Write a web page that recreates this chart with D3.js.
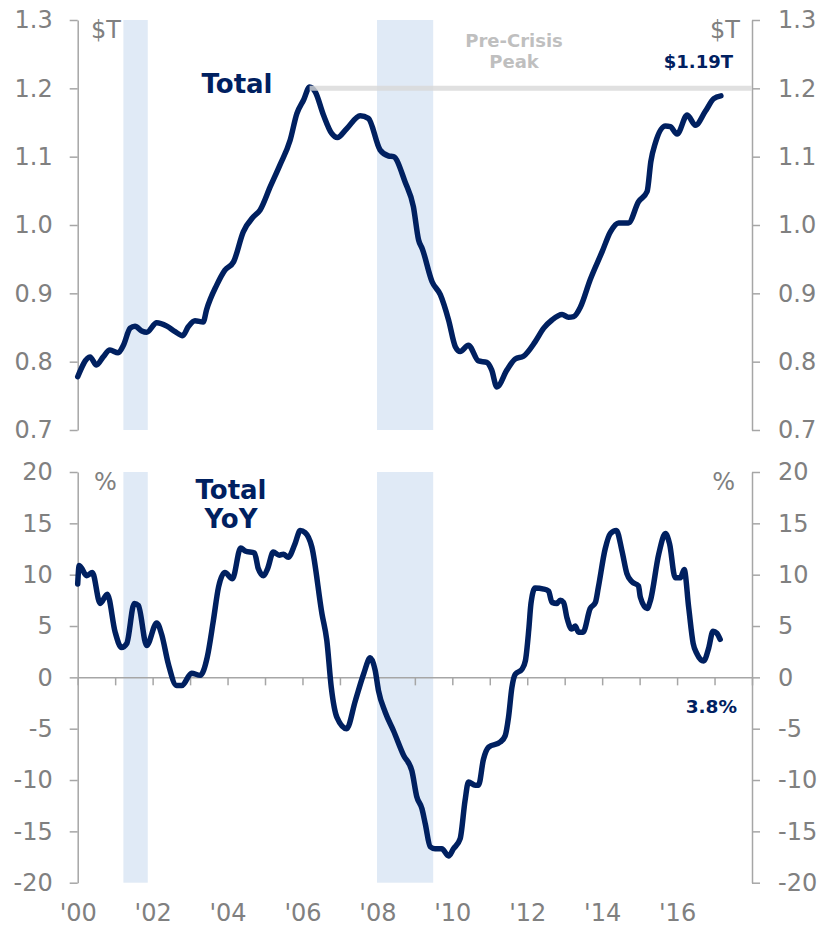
<!DOCTYPE html>
<html>
<head>
<meta charset="utf-8">
<script src="https://cdn.jsdelivr.net/npm/d3@7"></script>
<style>
  body { margin: 0; background: #fff; }
  svg text { font-family: Verdana, 'DejaVu Sans', sans-serif; }
  .axis path, .axis line { stroke: #a6a6a6; stroke-width: 1.5; }
  .axis text { fill: #808080; font-size: 24px; }
</style>
</head>
<body>
<div id="chart"></div>
<script>
// Total ($T)
const totalYears = [2000.0, 2000.33, 2000.5, 2000.68, 2000.86, 2001.08, 2001.22, 2001.4, 2001.53, 2001.71,
  2001.84, 2002.11, 2002.38, 2002.6, 2002.8, 2002.95, 2003.13, 2003.35, 2003.44, 2003.71,
  2003.93, 2004.16, 2004.42, 2004.69, 2004.87, 2005.14, 2005.4, 2005.67, 2005.85, 2006.03,
  2006.19, 2006.34, 2006.56, 2006.78, 2006.93, 2007.18, 2007.54, 2007.76, 2008.07, 2008.3,
  2008.43, 2008.74, 2008.96, 2009.1, 2009.2, 2009.46, 2009.68, 2009.9, 2010.08, 2010.21,
  2010.43, 2010.7, 2010.92, 2011.05, 2011.19, 2011.46, 2011.68, 2011.9, 2012.21, 2012.44,
  2012.66, 2012.93, 2013.1, 2013.24, 2013.42, 2013.68, 2014.0, 2014.22, 2014.44, 2014.7,
  2014.97, 2015.2, 2015.3, 2015.42, 2015.69, 2015.82, 2016.0, 2016.27, 2016.49, 2016.75,
  2016.98, 2017.17];
const totalValues = [0.778, 0.807, 0.795, 0.807, 0.817, 0.813, 0.824, 0.849, 0.852, 0.845,
  0.843, 0.857, 0.852, 0.844, 0.838, 0.851, 0.860, 0.858, 0.876, 0.912,
  0.934, 0.946, 0.990, 1.012, 1.022, 1.056, 1.088, 1.124, 1.163, 1.183,
  1.202, 1.195, 1.161, 1.134, 1.128, 1.141, 1.160, 1.156, 1.110, 1.101,
  1.100, 1.063, 1.027, 0.978, 0.965, 0.917, 0.898, 0.861, 0.822, 0.815,
  0.824, 0.801, 0.799, 0.788, 0.763, 0.788, 0.804, 0.808, 0.829, 0.849,
  0.861, 0.869, 0.865, 0.866, 0.880, 0.920, 0.961, 0.990, 1.003, 1.003,
  1.034, 1.049, 1.093, 1.120, 1.145, 1.144, 1.133, 1.161, 1.146, 1.166,
  1.185, 1.189];

// Total YoY (%)
const yoyYears = [2000.0, 2000.04, 2000.24, 2000.39, 2000.6, 2000.79, 2001.0, 2001.17, 2001.31, 2001.51,
  2001.62, 2001.84, 2002.11, 2002.24, 2002.42, 2002.64, 2002.78, 2003.04, 2003.27, 2003.46,
  2003.62, 2003.76, 2003.93, 2004.13, 2004.35, 2004.47, 2004.72, 2004.82, 2004.96, 2005.07,
  2005.22, 2005.38, 2005.49, 2005.62, 2005.8, 2005.94, 2006.07, 2006.25, 2006.52, 2006.65,
  2006.77, 2006.92, 2007.18, 2007.41, 2007.63, 2007.81, 2007.94, 2008.03, 2008.21, 2008.43,
  2008.7, 2008.92, 2009.05, 2009.19, 2009.28, 2009.41, 2009.54, 2009.72, 2009.9, 2010.03,
  2010.21, 2010.34, 2010.43, 2010.61, 2010.7, 2010.83, 2010.97, 2011.28, 2011.41, 2011.5,
  2011.59, 2011.68, 2011.86, 2011.95, 2012.04, 2012.1, 2012.21, 2012.44, 2012.57, 2012.66,
  2012.79, 2012.88, 2012.97, 2013.06, 2013.19, 2013.28, 2013.37, 2013.49, 2013.68, 2013.82,
  2013.9, 2014.08, 2014.22, 2014.38, 2014.53, 2014.66, 2014.8, 2014.97, 2015.02, 2015.2,
  2015.29, 2015.51, 2015.69, 2015.8, 2015.95, 2016.09, 2016.19, 2016.31, 2016.43, 2016.53,
  2016.71, 2016.84, 2016.96, 2017.06, 2017.15];
const yoyValues = [9.1, 10.9, 9.9, 10.2, 7.2, 8.1, 4.4, 2.9, 3.3, 7.2,
  7.0, 3.1, 5.3, 4.2, 1.3, -0.8, -0.8, 0.4, 0.2, 2.0,
  5.5, 8.8, 10.2, 9.6, 12.6, 12.3, 12.1, 10.6, 9.9, 10.6,
  12.2, 11.9, 12.0, 11.7, 13.0, 14.3, 14.1, 12.7, 6.2, 3.6,
  -1.0, -3.9, -5.0, -2.3, 0.3, 1.9, 0.7, -1.3, -3.4, -5.2,
  -7.6, -9.1, -11.6, -12.8, -14.3, -16.5, -16.7, -16.7, -17.4, -16.7,
  -15.7, -12.0, -10.2, -10.5, -10.5, -8.0, -6.8, -6.3, -5.7, -3.9,
  -1.0, 0.3, 0.8, 1.6, 4.6, 7.2, 8.7, 8.6, 8.4, 7.3,
  7.2, 7.5, 7.3, 5.8, 4.7, 5.0, 4.4, 4.4, 6.7, 7.3,
  8.8, 12.5, 14.0, 14.3, 12.3, 10.1, 9.3, 8.9, 7.8, 6.7,
  7.5, 12.0, 14.0, 13.0, 9.7, 9.7, 10.5, 6.8, 3.3, 2.3,
  1.6, 2.8, 4.5, 4.3, 3.7];

const recessions = [[2001.22, 2001.87], [2007.99, 2009.49]];
const topTicks = [0.7, 0.8, 0.9, 1.0, 1.1, 1.2, 1.3];
const bottomTicks = [-20, -15, -10, -5, 0, 5, 10, 15, 20];
const yearTicks = [2000, 2001, 2002, 2003, 2004, 2005, 2006, 2007, 2008, 2009,
  2010, 2011, 2012, 2013, 2014, 2015, 2016, 2017, 2018];
const yearLabels = [2000, 2002, 2004, 2006, 2008, 2010, 2012, 2014, 2016];
const peakYear = 2006.19;
const peakValue = 1.2;

const width = 823;
const height = 928;
const navy = '#002060';
const grey = '#808080';

const svg = d3.select('#chart').append('svg')
  .attr('width', width)
  .attr('height', height);

const x = d3.scaleLinear().domain([2000, 2018]).range([77.7, 752]);
const yTop = d3.scaleLinear().domain([0.7, 1.3]).range([430, 20]);
const yBot = d3.scaleLinear().domain([-20, 20]).range([882.7, 472]);

// recession bands
[yTop, yBot].forEach((y) => {
  svg.append('g').selectAll('rect')
    .data(recessions)
    .enter().append('rect')
    .attr('x', d => x(d[0]))
    .attr('width', d => x(d[1]) - x(d[0]))
    .attr('y', y.range()[1])
    .attr('height', y.range()[0] - y.range()[1])
    .style('fill', '#e0eaf6');
});

// plain hyphen for negatives, like the original
const pct = d => `${d}`;

// axes, top panel
svg.append('g')
  .attr('class', 'axis')
  .attr('transform', `translate(${x(2000)},0)`)
  .call(d3.axisLeft(yTop).tickValues(topTicks).tickFormat(d3.format('.1f'))
    .tickSize(8).tickSizeOuter(0).tickPadding(17));

svg.append('g')
  .attr('class', 'axis')
  .attr('transform', `translate(${x(2018)},0)`)
  .call(d3.axisRight(yTop).tickValues(topTicks).tickFormat(d3.format('.1f'))
    .tickSize(8).tickSizeOuter(0).tickPadding(18));

// axes, bottom panel
svg.append('g')
  .attr('class', 'axis')
  .attr('transform', `translate(${x(2000)},0)`)
  .call(d3.axisLeft(yBot).tickValues(bottomTicks).tickFormat(pct)
    .tickSize(8).tickSizeOuter(0).tickPadding(17));

svg.append('g')
  .attr('class', 'axis')
  .attr('transform', `translate(${x(2018)},0)`)
  .call(d3.axisRight(yBot).tickValues(bottomTicks).tickFormat(pct)
    .tickSize(8).tickSizeOuter(0).tickPadding(18));

// zero line with year ticks
svg.append('g')
  .attr('class', 'axis')
  .attr('transform', `translate(0,${yBot(0)})`)
  .call(d3.axisBottom(x).tickValues(yearTicks).tickFormat('')
    .tickSize(8).tickSizeOuter(0));

// year labels
const xLabels = svg.append('g')
  .attr('class', 'axis')
  .attr('transform', `translate(0,${yBot(-20)})`)
  .call(d3.axisBottom(x).tickValues(yearLabels)
    .tickFormat(d => `'${String(d).slice(2)}`)
    .tickSize(0).tickPadding(21));
xLabels.select('.domain').remove();

// series
const totalLine = d3.line()
  .x(d => x(d[0]))
  .y(d => yTop(d[1]))
  .curve(d3.curveMonotoneX);

const yoyLine = d3.line()
  .x(d => x(d[0]))
  .y(d => yBot(d[1]))
  .curve(d3.curveMonotoneX);

svg.append('path')
  .datum(d3.zip(totalYears, totalValues))
  .attr('d', totalLine)
  .style('fill', 'none')
  .style('stroke', navy)
  .style('stroke-width', 5.5)
  .style('stroke-linejoin', 'round')
  .style('stroke-linecap', 'round');

svg.append('path')
  .datum(d3.zip(yoyYears, yoyValues))
  .attr('d', yoyLine)
  .style('fill', 'none')
  .style('stroke', navy)
  .style('stroke-width', 5.5)
  .style('stroke-linejoin', 'round')
  .style('stroke-linecap', 'round');

// pre-crisis peak reference
svg.append('line')
  .attr('x1', x(peakYear))
  .attr('x2', x(2018))
  .attr('y1', yTop(peakValue))
  .attr('y2', yTop(peakValue))
  .style('stroke', '#d9d9d9')
  .style('stroke-width', 5)
  .style('opacity', 0.8);

// annotations
const notes = [
  { t: '$T', x: 91, y: 38, anchor: 'start', size: 24, weight: 'normal', fill: grey },
  { t: '$T', x: 740, y: 38, anchor: 'end', size: 24, weight: 'normal', fill: grey },
  { t: 'Total', x: 237, y: 93, anchor: 'middle', size: 26, weight: 'bold', fill: navy },
  { t: 'Pre-Crisis', x: 514, y: 47, anchor: 'middle', size: 18, weight: 'bold', fill: '#bfbfbf' },
  { t: 'Peak', x: 514, y: 68, anchor: 'middle', size: 18, weight: 'bold', fill: '#bfbfbf' },
  { t: '$1.19T', x: 733, y: 68, anchor: 'end', size: 18, weight: 'bold', fill: navy },
  { t: '%', x: 94, y: 490, anchor: 'start', size: 24, weight: 'normal', fill: grey },
  { t: '%', x: 735, y: 490, anchor: 'end', size: 24, weight: 'normal', fill: grey },
  { t: 'Total', x: 231, y: 499, anchor: 'middle', size: 26, weight: 'bold', fill: navy },
  { t: 'YoY', x: 231, y: 528, anchor: 'middle', size: 26, weight: 'bold', fill: navy },
  { t: '3.8%', x: 737, y: 713, anchor: 'end', size: 18.5, weight: 'bold', fill: navy },
];

svg.append('g').selectAll('text')
  .data(notes)
  .enter().append('text')
  .attr('x', d => d.x)
  .attr('y', d => d.y)
  .style('text-anchor', d => d.anchor)
  .style('font-size', d => `${d.size}px`)
  .style('font-weight', d => d.weight)
  .style('fill', d => d.fill)
  .text(d => d.t);
</script>
</body>
</html>
